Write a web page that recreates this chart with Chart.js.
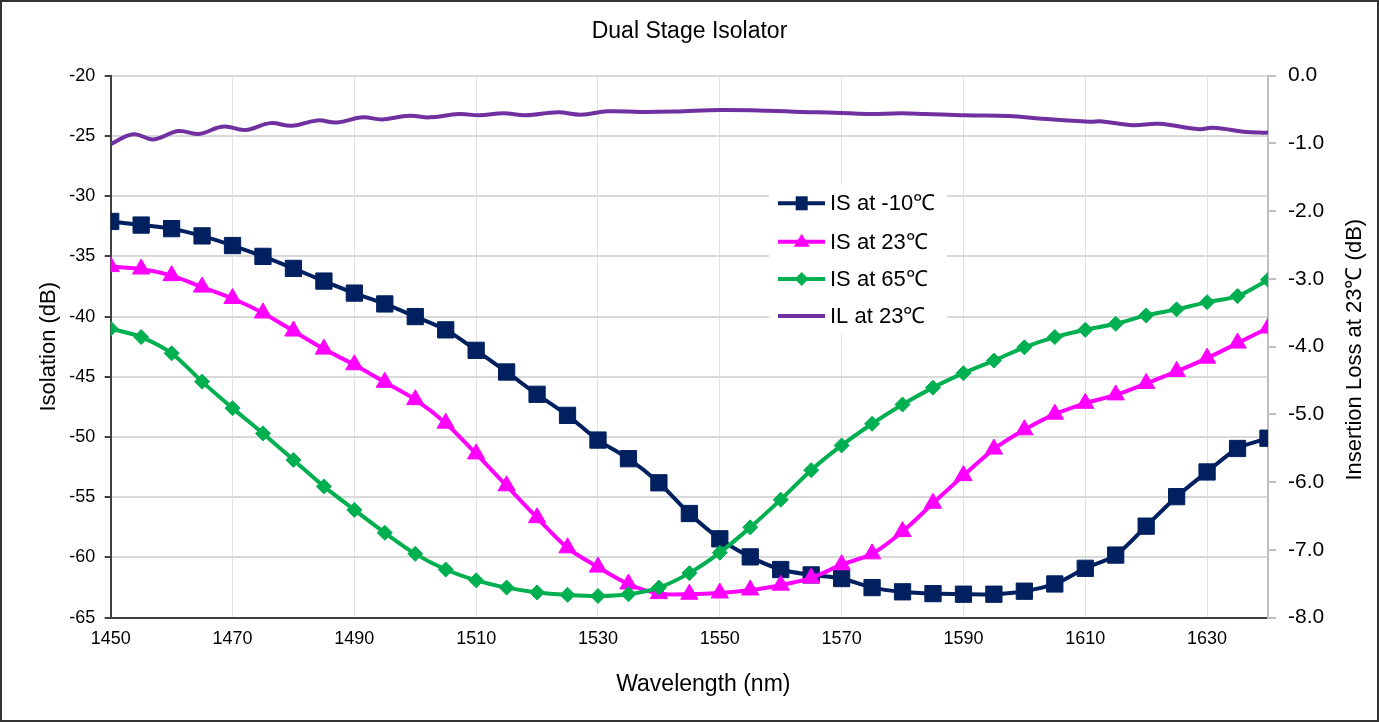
<!DOCTYPE html>
<html>
<head>
<meta charset="utf-8">
<title>Dual Stage Isolator</title>
<script src="https://cdn.jsdelivr.net/npm/chart.js@4.4.1/dist/chart.umd.min.js"></script>
<style>
    html, body { margin: 0; padding: 0; background: #fff; }
    #wrap { width: 1379px; height: 722px; }
</style>
</head>
<body>
<div id="wrap"><canvas id="isoChart" width="1379" height="722"></canvas></div>
<script>
// Wavelength grid of the isolation measurements (nm)
const wavelengths = [1450, 1455, 1460, 1465, 1470, 1475, 1480, 1485, 1490, 1495,
    1500, 1505, 1510, 1515, 1520, 1525, 1530, 1535, 1540, 1545,
    1550, 1555, 1560, 1565, 1570, 1575, 1580, 1585, 1590, 1595,
    1600, 1605, 1610, 1615, 1620, 1625, 1630, 1635, 1640];

// Isolation (dB)
const isMinus10 = [-32.1, -32.4, -32.7, -33.3, -34.1, -35.0, -36.0, -37.05, -38.05, -38.95,
    -40.0, -41.1, -42.8, -44.6, -46.45, -48.2, -50.25, -51.8, -53.8, -56.35,
    -58.45, -59.95, -61.0, -61.45, -61.75, -62.5, -62.85, -63.0, -63.05, -63.05,
    -62.8, -62.2, -60.9, -59.8, -57.4, -54.95, -52.9, -50.95, -50.1];
const is23 = [-35.85, -36.05, -36.6, -37.55, -38.5, -39.7, -41.2, -42.7, -44.0, -45.45,
    -46.9, -48.85, -51.4, -54.05, -56.7, -59.2, -60.8, -62.2, -63.0, -63.05,
    -62.95, -62.7, -62.3, -61.7, -60.6, -59.7, -57.85, -55.5, -53.2, -51.0,
    -49.4, -48.1, -47.2, -46.5, -45.55, -44.55, -43.45, -42.2, -40.95];
const is65 = [-41.0, -41.7, -43.05, -45.4, -47.6, -49.7, -51.9, -54.1, -56.05, -57.95,
    -59.7, -61.0, -61.9, -62.5, -62.9, -63.1, -63.2, -63.05, -62.5, -61.3,
    -59.6, -57.5, -55.2, -52.75, -50.7, -48.9, -47.3, -45.9, -44.7, -43.65,
    -42.55, -41.7, -41.1, -40.6, -39.9, -39.4, -38.8, -38.3, -36.95];

// Insertion loss at 23°C (dB)
const ilWavelengths = [1450, 1453.7, 1457, 1461.1, 1464.4, 1468.5, 1472.1, 1476.2, 1479.8, 1483.9,
    1487.2, 1491.3, 1494.6, 1499, 1502.3, 1507.2, 1510.5, 1514.5, 1518.1, 1523.4,
    1527.2, 1531.6, 1537, 1542.6, 1550.2, 1557.9, 1563.4, 1568.9, 1574.3, 1579.8,
    1583.7, 1590.3, 1597.4, 1602.9, 1610.6, 1612.8, 1617.7, 1622.1, 1628.7, 1630.9,
    1636.4, 1638.6, 1640];
const ilValues = [-1.01, -0.865, -0.94, -0.816, -0.86, -0.75, -0.80, -0.70, -0.74, -0.66,
    -0.69, -0.615, -0.645, -0.59, -0.615, -0.565, -0.585, -0.555, -0.585, -0.54,
    -0.575, -0.526, -0.536, -0.53, -0.506, -0.516, -0.536, -0.546, -0.565, -0.555,
    -0.565, -0.585, -0.595, -0.635, -0.68, -0.675, -0.73, -0.71, -0.79, -0.77,
    -0.83, -0.84, -0.84];

// Axis ticks
const xTicks = [1450, 1470, 1490, 1510, 1530, 1550, 1570, 1590, 1610, 1630];
const seriesNames = ['IS at -10\u2103', 'IS at 23\u2103', 'IS at 65\u2103', 'IL at 23\u2103'];
const xTitle = 'Wavelength (nm)';
const y1Title = 'Insertion Loss at 23\u2103 (dB)';

const FONT = '"Liberation Sans", Arial, sans-serif';
const BLUE = '#002060';
const MAGENTA = '#FF00FF';
const GREEN = '#00B050';
const PURPLE = '#7030A0';

function pairs(xs, ys) {
    return xs.map((x, i) => ({ x: x, y: ys[i] }));
}

// White background and outer frame
const framePlugin = {
    id: 'frame',
    beforeDraw(chart) {
        const ctx = chart.ctx;
        ctx.save();
        ctx.fillStyle = '#ffffff';
        ctx.fillRect(0, 0, chart.width, chart.height);
        ctx.restore();
    },
    afterDraw(chart) {
        const ctx = chart.ctx;
        ctx.save();
        ctx.strokeStyle = '#333333';
        ctx.lineWidth = 2;
        ctx.strokeRect(1, 1, chart.width - 2, chart.height - 2);
        ctx.restore();
    }
};

// Bottom and right axis titles (right one reads bottom-to-top, like Excel)
const axisTitles = {
    id: 'axisTitles',
    afterDraw(chart) {
        const ctx = chart.ctx;
        const area = chart.chartArea;
        ctx.save();
        ctx.fillStyle = '#000000';
        ctx.textAlign = 'center';
        ctx.textBaseline = 'middle';
        ctx.font = '23px ' + FONT;
        ctx.fillText(xTitle, (area.left + area.right) / 2 + 14, 685);
        ctx.font = '22px ' + FONT;
        ctx.translate(1355, (area.top + area.bottom) / 2 + 3);
        ctx.rotate(-Math.PI / 2);
        ctx.fillText(y1Title, 0, 0);
        ctx.restore();
    }
};

// Excel-like floating legend inside the plot
const floatLegend = {
    id: 'floatLegend',
    afterDatasetsDraw(chart) {
        const ctx = chart.ctx;
        const box = { x: 769, y: 185, w: 178, h: 148 };
        const rows = [203.3, 241.7, 279, 316];
        const styles = [
            { color: BLUE, marker: 'rect' },
            { color: MAGENTA, marker: 'triangle' },
            { color: GREEN, marker: 'diamond' },
            { color: PURPLE, marker: null }
        ];
        ctx.save();
        ctx.fillStyle = '#ffffff';
        ctx.fillRect(box.x, box.y, box.w, box.h);
        rows.forEach((y, i) => {
            const s = styles[i];
            ctx.strokeStyle = s.color;
            ctx.fillStyle = s.color;
            ctx.lineWidth = 4;
            ctx.beginPath();
            ctx.moveTo(778, y);
            ctx.lineTo(825, y);
            ctx.stroke();
            const cx = 801.7;
            ctx.beginPath();
            if (s.marker === 'rect') {
                ctx.rect(cx - 6, y - 7, 12, 14);
            } else if (s.marker === 'triangle') {
                ctx.moveTo(cx, y - 8);
                ctx.lineTo(cx + 8, y + 5);
                ctx.lineTo(cx - 8, y + 5);
                ctx.closePath();
            } else if (s.marker === 'diamond') {
                ctx.moveTo(cx, y - 7);
                ctx.lineTo(cx + 7, y);
                ctx.lineTo(cx, y + 7);
                ctx.lineTo(cx - 7, y);
                ctx.closePath();
            }
            if (s.marker) ctx.fill();
            ctx.fillStyle = '#000000';
            ctx.font = '22px ' + FONT;
            ctx.textAlign = 'left';
            ctx.textBaseline = 'middle';
            ctx.fillText(seriesNames[i], 830, y + 1);
        });
        ctx.restore();
    }
};

const ctx = document.getElementById('isoChart').getContext('2d');
const isoChart = new Chart(ctx, {
    type: 'line',
    data: {
        datasets: [
            {
                label: seriesNames[0],
                data: pairs(wavelengths, isMinus10),
                yAxisID: 'y',
                borderColor: BLUE,
                backgroundColor: BLUE,
                borderWidth: 4,
                pointStyle: 'rect',
                pointRadius: 11.5,
                pointBorderWidth: 1,
                tension: 0.3,
                order: 3
            },
            {
                label: seriesNames[1],
                data: pairs(wavelengths, is23),
                yAxisID: 'y',
                borderColor: MAGENTA,
                backgroundColor: MAGENTA,
                borderWidth: 4,
                pointStyle: 'triangle',
                pointRadius: 10,
                pointBorderWidth: 1,
                tension: 0.3,
                order: 2
            },
            {
                label: seriesNames[2],
                data: pairs(wavelengths, is65),
                yAxisID: 'y',
                borderColor: GREEN,
                backgroundColor: GREEN,
                borderWidth: 4,
                pointStyle: 'rectRot',
                pointRadius: 7.5,
                pointBorderWidth: 1,
                tension: 0.3,
                order: 1
            },
            {
                label: seriesNames[3],
                data: pairs(ilWavelengths, ilValues),
                yAxisID: 'y1',
                borderColor: PURPLE,
                backgroundColor: PURPLE,
                borderWidth: 4,
                pointRadius: 0,
                tension: 0.4,
                order: 0
            }
        ]
    },
    options: {
        responsive: false,
        animation: false,
        devicePixelRatio: 1,
        layout: { padding: 0 },
        plugins: {
            legend: { display: false },
            tooltip: { enabled: false },
            title: {
                display: true,
                text: 'Dual Stage Isolator',
                color: '#000000',
                font: { family: FONT, size: 23, weight: 'normal' },
                padding: { top: 17.5, bottom: 30.6 }
            }
        },
        scales: {
            x: {
                type: 'linear',
                min: 1450,
                max: 1640,
                afterBuildTicks: scale => {
                    scale.ticks = xTicks.map(v => ({ value: v }));
                },
                afterFit: scale => { scale.height = 104.3; },
                ticks: {
                    color: '#000000',
                    font: { family: FONT, size: 18 },
                    padding: 10.8,
                    maxRotation: 0,
                    autoSkip: false,
                    callback: v => String(v)
                },
                grid: { color: '#E3E3E3', lineWidth: 1, drawTicks: false },
                border: { color: '#404040', width: 2 },
                title: { display: false }
            },
            y: {
                position: 'left',
                min: -65,
                max: -20,
                afterFit: scale => { scale.width = 110.7; },
                ticks: {
                    stepSize: 5,
                    color: '#000000',
                    font: { family: FONT, size: 18 },
                    padding: 9.5
                },
                grid: { color: '#D9D9D9', lineWidth: 2, tickLength: 6, tickColor: '#404040' },
                border: { color: '#404040', width: 2 },
                title: {
                    display: true,
                    text: 'Isolation (dB)',
                    color: '#000000',
                    font: { family: FONT, size: 22 },
                    padding: { top: 35.8, bottom: 0 }
                }
            },
            y1: {
                position: 'right',
                min: -8,
                max: 0,
                afterFit: scale => { scale.width = 111; },
                ticks: {
                    stepSize: 1,
                    color: '#000000',
                    font: { family: FONT, size: 21 },
                    padding: 12,
                    callback: v => v.toFixed(1)
                },
                grid: { drawOnChartArea: false, tickLength: 8, tickColor: '#BFBFBF', lineWidth: 2 },
                border: { color: '#BFBFBF', width: 2 },
                title: { display: false }
            }
        }
    },
    plugins: [framePlugin, axisTitles, floatLegend]
});
</script>
</body>
</html>
